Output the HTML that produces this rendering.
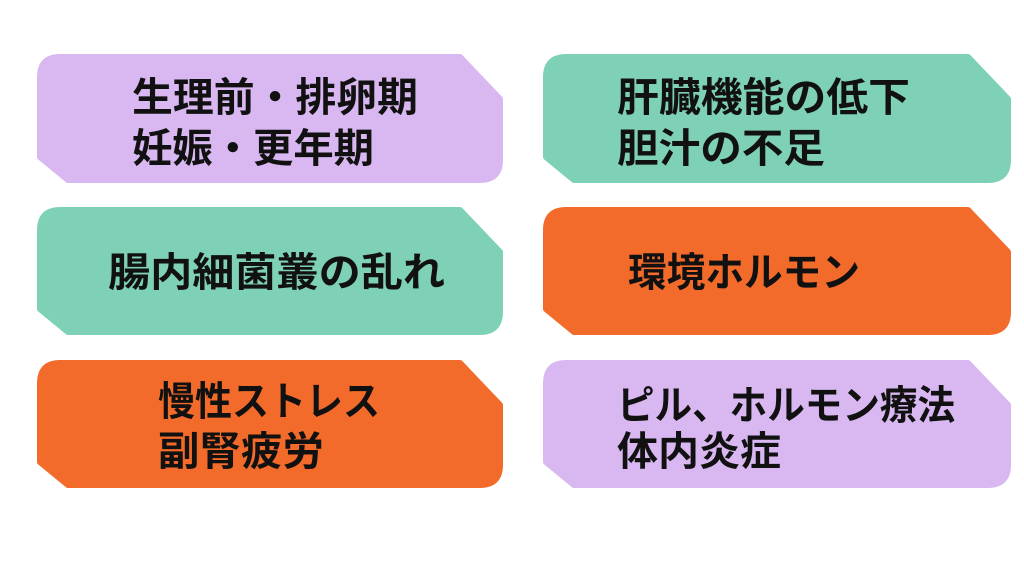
<!DOCTYPE html>
<html><head><meta charset="utf-8"><style>
html,body{margin:0;padding:0;background:#fff;}
svg{display:block}
text{font-family:"Liberation Sans","Noto Sans CJK JP",sans-serif;font-weight:bold;font-size:40px;fill:#111;}
path{stroke-width:6;stroke-linejoin:round}
</style></head><body>
<svg width="1024" height="576" viewBox="0 0 1024 576">
<g>
<path fill="#d9b8f2" stroke="#d9b8f2" d="M60,57 L460,57 L500,99 L500,160 Q500,180 480,180 L68,180 L40,157 L40,77 Q40,57 60,57 Z"/>
<path fill="#7ed1b6" stroke="#7ed1b6" d="M566,57 L968,57 L1008,99 L1008,160 Q1008,180 988,180 L574,180 L546,157 L546,77 Q546,57 566,57 Z"/>
<path fill="#7ed1b6" stroke="#7ed1b6" d="M60,210 L460,210 L500,252 L500,312 Q500,332 480,332 L68,332 L40,309 L40,230 Q40,210 60,210 Z"/>
<path fill="#f26b2a" stroke="#f26b2a" d="M566,210 L968,210 L1008,252 L1008,312 Q1008,332 988,332 L574,332 L546,309 L546,230 Q546,210 566,210 Z"/>
<path fill="#f26b2a" stroke="#f26b2a" d="M60,363 L460,363 L500,405 L500,465 Q500,485 480,485 L68,485 L40,462 L40,383 Q40,363 60,363 Z"/>
<path fill="#d9b8f2" stroke="#d9b8f2" d="M566,363 L968,363 L1008,405 L1008,465 Q1008,485 988,485 L574,485 L546,462 L546,383 Q546,363 566,363 Z"/>
</g>
<text x="132" y="111" textLength="286" lengthAdjust="spacingAndGlyphs">生理前・排卵期</text>
<text x="132" y="162" textLength="242" lengthAdjust="spacingAndGlyphs">妊娠・更年期</text>
<text x="617" y="111" textLength="293" lengthAdjust="spacingAndGlyphs">肝臓機能の低下</text>
<text x="617" y="162" textLength="208" lengthAdjust="spacingAndGlyphs">胆汁の不足</text>
<text x="108" y="286" textLength="337" lengthAdjust="spacingAndGlyphs">腸内細菌叢の乱れ</text>
<text x="628" y="286" textLength="232" lengthAdjust="spacingAndGlyphs">環境ホルモン</text>
<text x="158" y="415" textLength="222" lengthAdjust="spacingAndGlyphs">慢性ストレス</text>
<text x="158" y="465" textLength="166" lengthAdjust="spacingAndGlyphs">副腎疲労</text>
<text x="617" y="419" textLength="338" lengthAdjust="spacingAndGlyphs">ピル、ホルモン療法</text>
<text x="617" y="465" textLength="164" lengthAdjust="spacingAndGlyphs">体内炎症</text>
</svg>
</body></html>
